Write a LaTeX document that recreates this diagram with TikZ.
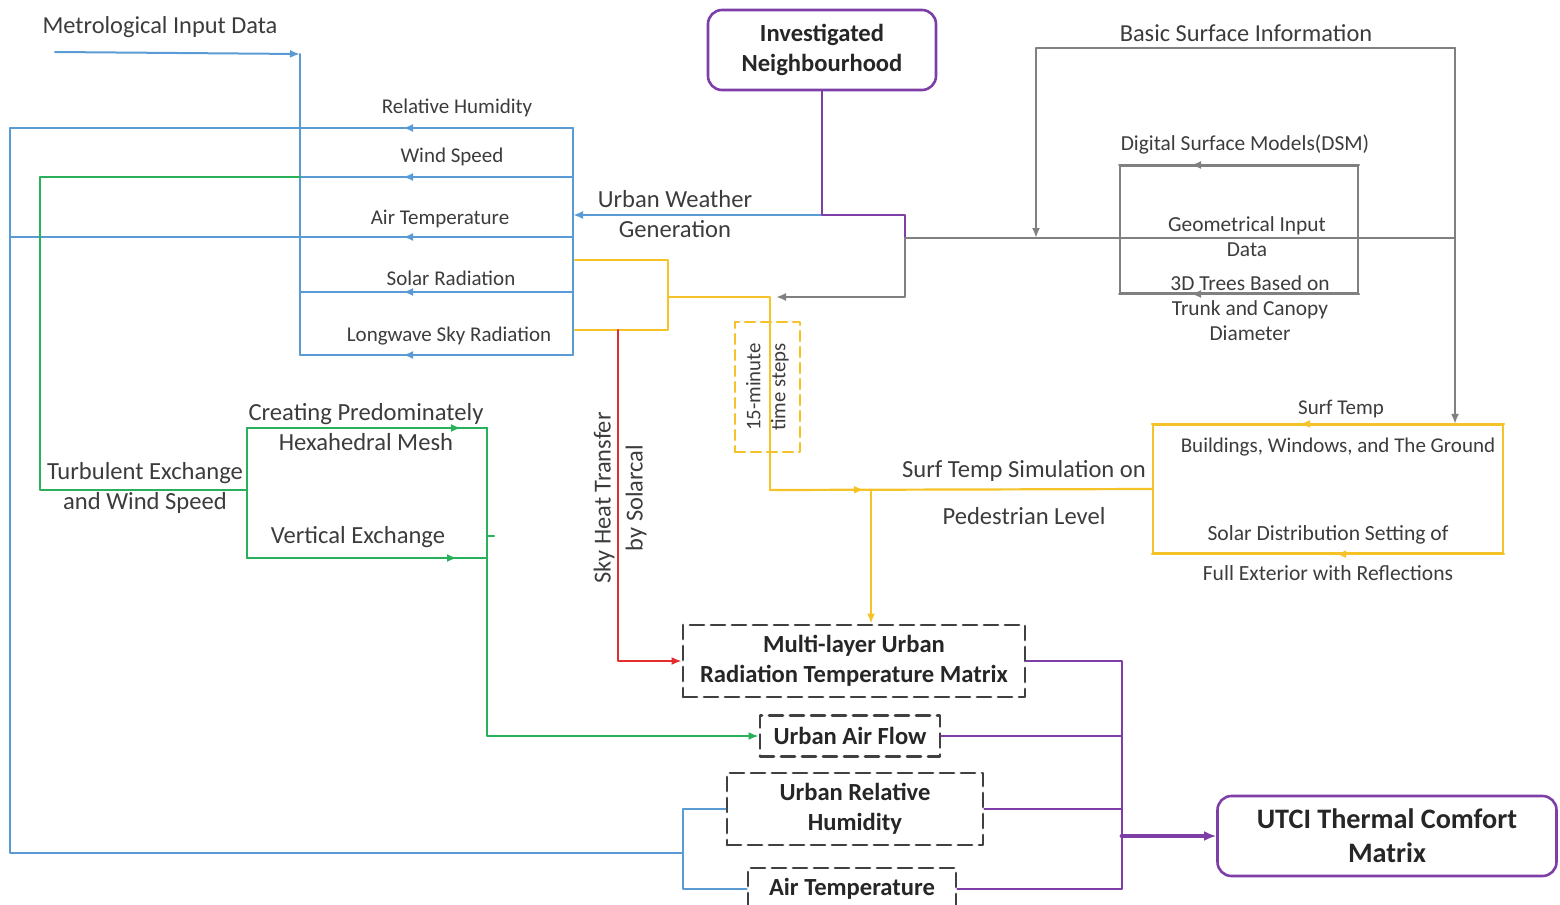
\documentclass[tikz,border=0pt]{standalone}
\usepackage{fontspec}
\setmainfont{Carlito}
\usetikzlibrary{arrows.meta, calc, positioning, decorations.markings}
\definecolor{lineblue}{RGB}{91,155,213}
\definecolor{linegreen}{RGB}{40,176,90}
\definecolor{lineyellow}{RGB}{245,195,40}
\definecolor{linered}{RGB}{228,45,45}
\definecolor{linepurple}{RGB}{125,62,168}
\definecolor{linegray}{RGB}{128,128,128}
\definecolor{txtgray}{RGB}{60,60,60}

\tikzset{
  lbl/.style={text=txtgray, inner sep=1pt, align=center, font=\fontsize{10.5}{12}\selectfont},
  biglbl/.style={lbl, font=\fontsize{12.3}{15}\selectfont},
  blueln/.style={lineblue, line width=1pt},
  greenln/.style={linegreen, line width=1.1pt},
  yellowln/.style={lineyellow, line width=1.1pt},
  grayln/.style={linegray, line width=1pt},
  purpln/.style={linepurple, line width=1pt},
  dashbox/.style={draw=black!75, line width=1.4pt, dash pattern=on 7pt off 3.5pt, align=center,
    font=\bfseries\fontsize{12.3}{15}\selectfont, text=black!85, inner sep=2pt},
  roundbox/.style={draw=linepurple, line width=1.3pt, rounded corners=7pt, align=center, text=black!85},
  arrowat/.style={postaction={decorate}, decoration={markings,
    mark=at position #1 with {\arrow{Latex[length=5pt,width=4pt]}}}}
}

\begin{document}
\begin{tikzpicture}[x=0.5pt, y=-0.5pt, >={Latex[length=5pt,width=4pt]}, line cap=round, line join=round]
  \useasboundingbox (0,0) rectangle (1560,905);

  % main boxes
  \node[roundbox, minimum width=114pt, minimum height=40pt, font=\bfseries\fontsize{12.3}{15}\selectfont] (inv) at (822,50) {Investigated\\Neighbourhood};
  \node[roundbox, minimum width=169.5pt, minimum height=40pt, font=\bfseries\fontsize{14.1}{17}\selectfont] (utci) at (1387,836) {UTCI Thermal Comfort\\Matrix};
  \node[dashbox, minimum width=171pt, minimum height=36pt] (multi) at (854,661) {Multi-layer Urban\\Radiation Temperature Matrix};
  \node[dashbox, minimum width=90pt, minimum height=20.5pt] (flow) at (850,736) {Urban Air Flow};
  \node[dashbox, minimum width=128pt, minimum height=36pt] (relh) at (855,809) {Urban Relative\\Humidity};
  \node[dashbox, minimum width=104pt, minimum height=21pt] (airt) at (852,889) {Air Temperature};

  % meteorological inputs (blue)
  \coordinate (metin) at (55,52);
  \coordinate (fl) at (300,54);
  \node[biglbl, font=\fontsize{12.2}{14}\selectfont] (metlbl) at (160,27) {Metrological Input Data};
  \draw[blueln, ->] (metin) -- (fl);
  \draw[blueln] (fl) -- (300,355) -- (573,355) -- (573,128);
  \draw[blueln, arrowat=85pt] (573,128) -- (10,128);
  \draw[blueln, arrowat=85pt] (573,177) -- (300,177);
  \draw[blueln, arrowat=85pt] (573,237) -- (10,237);
  \draw[blueln, arrowat=85pt] (573,292) -- (300,292);
  \draw[blueln, arrowat=85pt] (573,355) -- (300,355);
  \node[lbl] (rhlbl) at (457,108) {Relative Humidity};
  \node[lbl] (wslbl) at (452,157) {Wind Speed};
  \node[lbl] (atlbl) at (440,219) {Air Temperature};
  \node[lbl] (srlbl) at (451,278) {Solar Radiation};
  \node[lbl] (lwlbl) at (449,336) {Longwave Sky Radiation};

  % feedback to humidity and temperature
  \coordinate (bk) at (683,853);
  \draw[blueln] (10,128) -- (10,853) -- (bk);
  \draw[blueln] (relh.west) -| (bk) |- (airt.west);

  % urban weather generation
  \coordinate (uwg) at (822,215);
  \coordinate (gj) at (905,238);
  \draw[blueln, ->] (uwg) -- (573,215);
  \draw[purpln] (inv.south) -- (uwg) -- (905,215) -- (gj);
  \node[biglbl] (uwglbl) at (675,214) {Urban Weather\\Generation};

  % surface information (gray)
  \coordinate (bsl) at (1036,48);
  \coordinate (bsr) at (1455,48);
  \node[biglbl, font=\fontsize{12.2}{14}\selectfont] (bslbl) at (1246,33) {Basic Surface Information};
  \draw[grayln] (gj) -- (1455,238);
  \draw[grayln, ->] (gj) -- (905,297) -- (776,297);
  \draw[grayln, ->] (bsr) -- (bsl) -- (bsl |- gj);
  \node[draw=linegray, line width=1pt, minimum width=119pt, minimum height=63.5pt] (dsm) at (1239,229.5) {};
  \draw[grayln, arrowat=84pt] (dsm.north east) -- (dsm.north west);
  \draw[grayln, arrowat=84pt] (dsm.south east) -- (dsm.south west);
  \node[lbl, font=\fontsize{10.7}{12}\selectfont] (dsmlbl) at (1245,145) {Digital Surface Models(DSM)};
  \node[lbl, font=\fontsize{10.7}{12.5}\selectfont] (geolbl) at (1247,237) {Geometrical Input\\Data};
  \node[lbl, font=\fontsize{10.7}{12.5}\selectfont] (treelbl) at (1250,308) {3D Trees Based on\\Trunk and Canopy\\Diameter};

  % surface temperature (yellow)
  \node[draw=lineyellow, line width=1.1pt, minimum width=175pt, minimum height=64pt] (surf) at (1328,489) {};
  \draw[grayln, ->] (bsr) -- (bsr |- surf.north);
  \draw[yellowln, arrowat=102pt] (surf.north east) -- (surf.north west);
  \draw[yellowln, arrowat=84pt] (surf.south east) -- (surf.south west);
  \node[lbl] (stlbl) at (1341,409) {Surf Temp};
  \node[lbl] (bwglbl) at (1338,447) {Buildings, Windows, and The Ground};
  \node[lbl, font=\fontsize{10.8}{12}\selectfont] (sdlbl) at (1328,535) {Solar Distribution Setting of};
  \node[lbl, font=\fontsize{10.8}{12}\selectfont] (felbl) at (1328,573) {Full Exterior with Reflections};

  \coordinate (yj) at (871,490);
  \draw[yellowln] (575,260) -- (668,260) -- (668,330) -- (575,330);
  \draw[yellowln] (668,297) -- (770,297) -- (770,490);
  \draw[yellowln, arrowat=47pt] (770,490) -- (surf.west);
  \draw[yellowln, ->] (yj) -- (yj |- multi.north);
  \node[draw=lineyellow, line width=1.1pt, dash pattern=on 5pt off 3pt, minimum width=32.5pt, minimum height=65pt] (stepsbox) at (767.5,387) {};
  \node[lbl, rotate=90, font=\fontsize{10.4}{12.5}\selectfont] (stepslbl) at (767.5,387) {15-minute\\time steps};
  \node[biglbl] (stslbl) at (1024,471) {Surf Temp Simulation on};
  \node[biglbl] (pedlbl) at (1024,516) {Pedestrian Level};

  % sky heat transfer (red)
  \draw[linered, line width=1.1pt, ->] (618,330) |- (multi.west);
  \node[biglbl, rotate=90, font=\fontsize{12.2}{16}\selectfont] (skylbl) at (620,498) {Sky Heat Transfer\\by Solarcal};

  % air flow (green)
  \draw[greenln] (300,177) -- (40,177) -- (40,490) -- (247,490);
  \draw[greenln] (247,428) -- (247,558);
  \draw[greenln, arrowat=107pt] (247,428) -- (487,428);
  \draw[greenln, arrowat=105pt] (247,558) -- (487,558);
  \draw[greenln, ->] (487,428) |- (flow.west);
  \draw[greenln] (487,536) -- (494,536);
  \node[biglbl] (meshlbl) at (366,427) {Creating Predominately\\Hexahedral Mesh};
  \node[biglbl] (turblbl) at (145,488) {Turbulent Exchange\\and Wind Speed};
  \node[biglbl] (vertlbl) at (358,537) {Vertical Exchange};

  % comfort matrix (purple)
  \coordinate (pb) at (1122,661);
  \draw[purpln] (multi.east) -- (pb) -- (pb |- airt.east) -- (airt.east);
  \draw[purpln] (flow.east) -- (flow.east -| pb);
  \draw[purpln] (relh.east) -- (relh.east -| pb);
  \draw[linepurple, line width=2.4pt, -{Latex[length=6pt,width=5pt]}] (utci.west -| pb) -- (utci.west);
\end{tikzpicture}
\end{document}
